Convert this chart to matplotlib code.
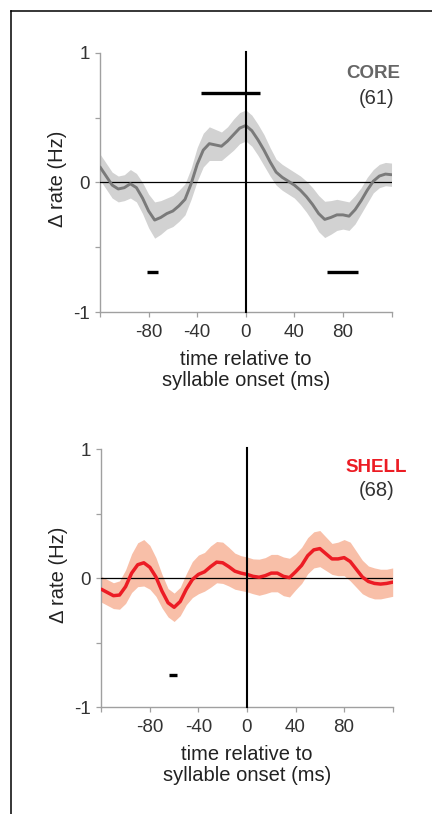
import matplotlib
matplotlib.use('Agg')
import matplotlib.pyplot as plt
from matplotlib.lines import Line2D
import numpy as np

plt.rcParams['font.family'] = ['Liberation Sans', 'DejaVu Sans']

# time axis (ms relative to syllable onset), 5 ms steps
t_ms = list(range(-120, 121, 5))

core_mean = [0.12, 0.05, -0.02, -0.05, -0.04, -0.01, -0.04, -0.12, -0.22, -0.29,
             -0.27, -0.24, -0.22, -0.18, -0.13, -0.01, 0.14, 0.25, 0.30, 0.29,
             0.28, 0.32, 0.37, 0.42, 0.44, 0.40, 0.33, 0.25, 0.16, 0.08,
             0.04, 0.01, -0.02, -0.06, -0.11, -0.17, -0.24, -0.285, -0.27, -0.25,
             -0.25, -0.26, -0.21, -0.14, -0.06, 0.01, 0.05, 0.065, 0.06]
core_sem = [0.10, 0.10, 0.10, 0.10, 0.10, 0.11, 0.11, 0.12, 0.13, 0.14,
            0.13, 0.12, 0.12, 0.12, 0.12, 0.12, 0.13, 0.13, 0.13, 0.12,
            0.11, 0.11, 0.12, 0.12, 0.12, 0.12, 0.12, 0.12, 0.11, 0.10,
            0.10, 0.10, 0.10, 0.11, 0.12, 0.13, 0.14, 0.14, 0.13, 0.12,
            0.11, 0.11, 0.11, 0.10, 0.10, 0.09, 0.09, 0.09, 0.09]

shell_mean = [-0.085, -0.11, -0.135, -0.13, -0.065, 0.04, 0.105, 0.12, 0.085, 0.01,
              -0.10, -0.19, -0.225, -0.18, -0.085, -0.01, 0.03, 0.05, 0.09, 0.125,
              0.12, 0.09, 0.055, 0.04, 0.03, 0.015, 0.008, 0.02, 0.04, 0.04,
              0.015, 0.005, 0.05, 0.10, 0.175, 0.22, 0.23, 0.19, 0.15, 0.15,
              0.16, 0.13, 0.07, 0.01, -0.025, -0.04, -0.045, -0.04, -0.03]
shell_sem = [0.10, 0.10, 0.10, 0.11, 0.13, 0.15, 0.17, 0.18, 0.17, 0.15,
             0.13, 0.11, 0.11, 0.11, 0.12, 0.14, 0.15, 0.15, 0.16, 0.16,
             0.16, 0.15, 0.14, 0.135, 0.135, 0.135, 0.14, 0.14, 0.145, 0.145,
             0.15, 0.15, 0.14, 0.14, 0.14, 0.14, 0.14, 0.13, 0.12, 0.13,
             0.14, 0.15, 0.14, 0.13, 0.12, 0.12, 0.115, 0.11, 0.11]

# significance bars: (start ms, end ms, y level)
core_sig = [(-37, 12, 0.69), (-81, -72, -0.69), (67, 92, -0.69)]
shell_sig = [(-64, -58, -0.75)]

x_ticks = [-120, -80, -40, 0, 40, 80, 120]
x_ticklabels = ['', '-80', '-40', '0', '40', '80', '']
y_ticks = [-1, -0.5, 0, 0.5, 1]
y_ticklabels = ['-1', '', '0', '', '1']

panels = [
    dict(rect=[0.2315, 0.6167, 0.6748, 0.3182], mean=core_mean, sem=core_sem,
         sig=core_sig, line='#7a7a7a', band='#d2d2d2', lw=2.1,
         name='CORE', name_col='#666666', n='(61)',
         name_xy=(400.5, 73.5), n_xy=(394, 99)),
    dict(rect=[0.2345, 0.1311, 0.6745, 0.3170], mean=shell_mean, sem=shell_sem,
         sig=shell_sig, line='#ec1c24', band='#f8bfa8', lw=2.5,
         name='SHELL', name_col='#ec1c24', n='(68)',
         name_xy=(406.5, 467.5), n_xy=(394, 490)),
]

W, H = 432, 814
fig = plt.figure(figsize=(W / 100, H / 100), dpi=100)

# frame lines (left and top)
fig.add_artist(Line2D([11 / W, 11 / W], [0, 1 - 11 / H], color='black', lw=1.1))
fig.add_artist(Line2D([11 / W, 1], [1 - 11 / H, 1 - 11 / H], color='black', lw=1.1))

axis_gray = '#a0a0a0'

for p in panels:
    ax = fig.add_axes(p['rect'])
    t = np.array(t_ms)
    m = np.array(p['mean'])
    s = np.array(p['sem'])

    ax.fill_between(t, m - s, m + s, color=p['band'], lw=0, zorder=1)
    ax.plot(t, m, color=p['line'], lw=p['lw'], zorder=4,
            solid_capstyle='round', solid_joinstyle='round')

    # reference lines
    ax.axhline(0, color='black', lw=0.9, zorder=3)
    ax.plot([0, 0], [-1, 1.01], color='black', lw=1.5, zorder=5, clip_on=False)

    for x0, x1, yv in p['sig']:
        ax.plot([x0, x1], [yv, yv], color='black', lw=2.4, zorder=6,
                solid_capstyle='butt')

    ax.set_xlim(-120, 120)
    ax.set_ylim(-1, 1)
    for side in ['top', 'right']:
        ax.spines[side].set_visible(False)
    for side in ['left', 'bottom']:
        ax.spines[side].set_color(axis_gray)
        ax.spines[side].set_linewidth(1.0)

    ax.set_xticks(x_ticks)
    ax.set_xticklabels(x_ticklabels)
    ax.set_yticks(y_ticks)
    ax.set_yticklabels(y_ticklabels)
    ax.tick_params(axis='both', direction='out', length=3.5, width=0.9,
                   color=axis_gray, labelsize=13.5, labelcolor='#333333')
    ax.tick_params(axis='x', pad=5)
    ax.tick_params(axis='y', pad=4)

    ax.set_ylabel('\u0394 rate (Hz)', fontsize=14.5, color='#222222')
    ax.yaxis.set_label_coords(-0.113, 0.515)
    ax.set_xlabel('time relative to\nsyllable onset (ms)', fontsize=14.5,
                  color='#222222', linespacing=1.1)
    ax.xaxis.set_label_coords(0.5, -0.147)

    fig.text(p['name_xy'][0] / W, 1 - p['name_xy'][1] / H, p['name'],
             fontsize=13.5, fontweight='bold', color=p['name_col'],
             ha='right', va='center')
    fig.text(p['n_xy'][0] / W, 1 - p['n_xy'][1] / H, p['n'],
             fontsize=14.5, color='#333333', ha='right', va='center')

fig.savefig('out.png', dpi=100, facecolor='white')
